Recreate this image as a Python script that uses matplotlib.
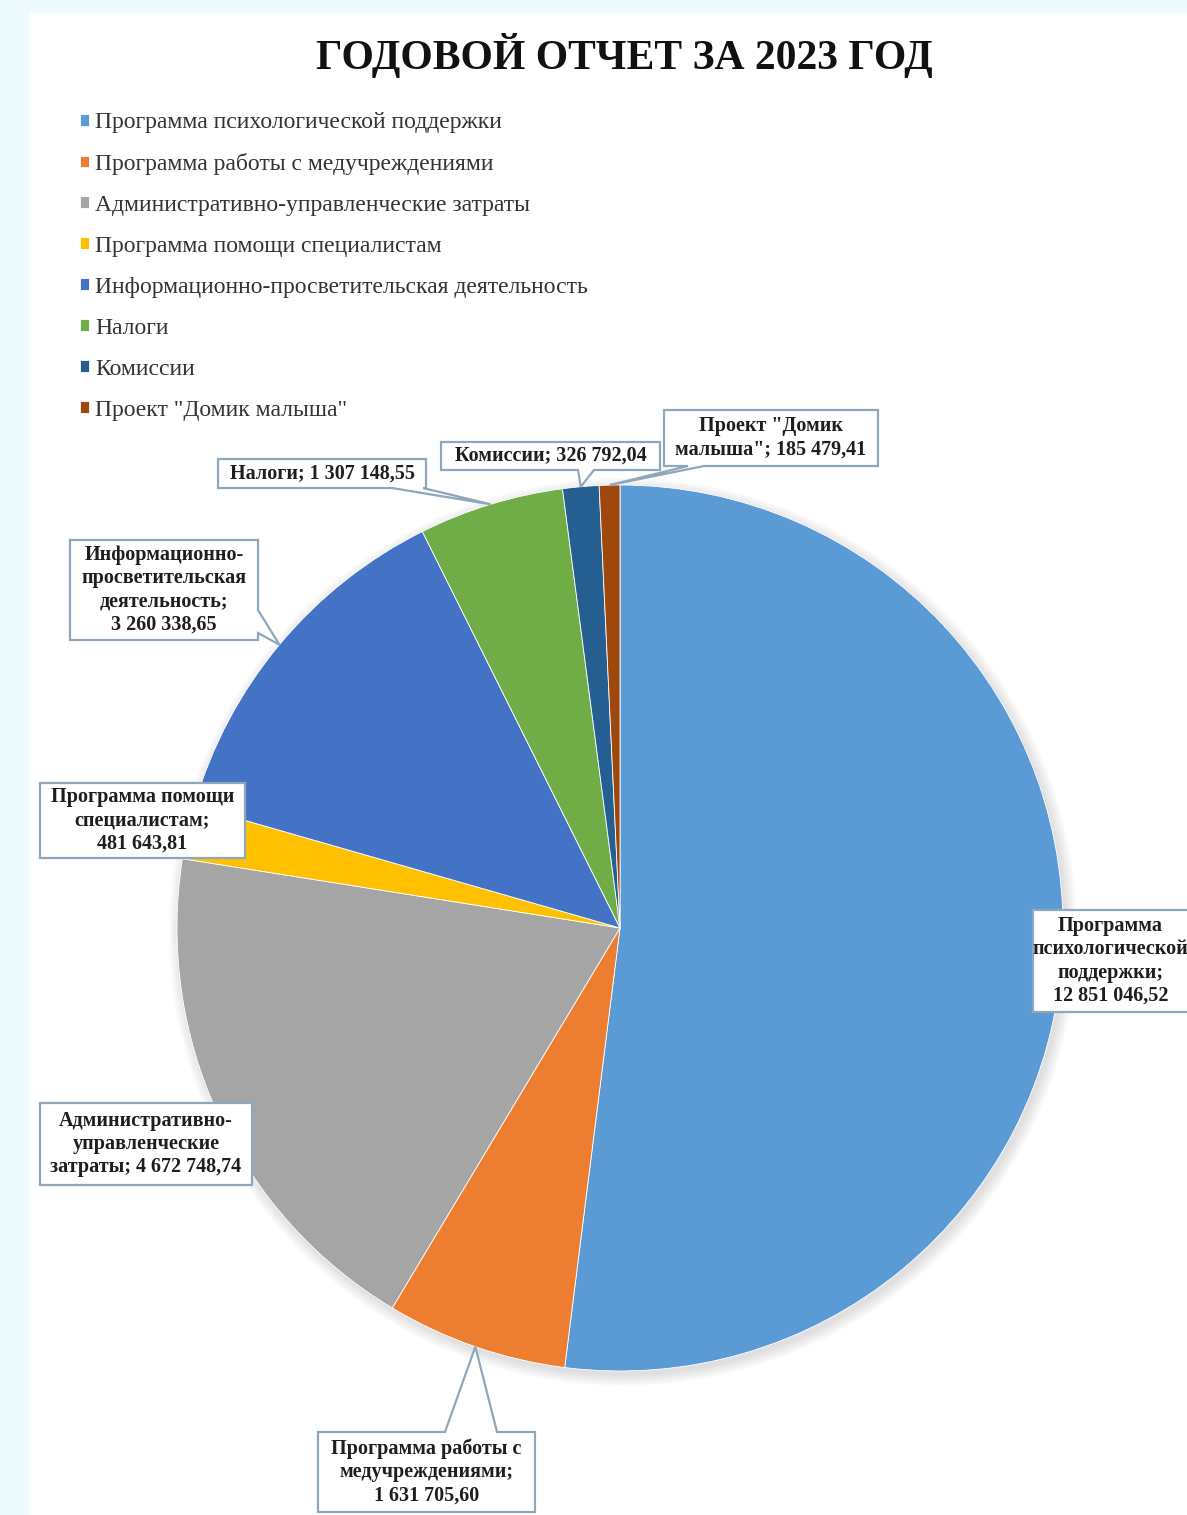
import matplotlib

matplotlib.use("Agg")
import matplotlib.pyplot as plt  # noqa: E402
from matplotlib.patches import Circle, Polygon, Rectangle  # noqa: E402
import numpy as np  # noqa: E402

W, H = 1187, 1515

TITLE = "ГОДОВОЙ ОТЧЕТ ЗА 2023 ГОД"
CATEGORIES = [
    "Программа психологической поддержки",
    "Программа работы с медучреждениями",
    "Административно-управленческие затраты",
    "Программа помощи специалистам",
    "Информационно-просветительская деятельность",
    "Налоги",
    "Комиссии",
    "Проект \"Домик малыша\"",
]
VALUES = [12851046.52, 1631705.60, 4672748.74, 481643.81,
          3260338.65, 1307148.55, 326792.04, 185479.41]
# category names as wrapped inside the data-label callouts, and what follows the ";"
LABEL_NAMES = [
    "Программа\nпсихологической\nподдержки",
    "Программа работы с\nмедучреждениями",
    "Административно-\nуправленческие\nзатраты",
    "Программа помощи\nспециалистам",
    "Информационно-\nпросветительская\nдеятельность",
    "Налоги",
    "Комиссии",
    "Проект \"Домик\nмалыша\"",
]
LABEL_JOIN = ["\n", "\n", " ", "\n", "\n", " ", " ", " "]

COLORS = ["#5B9BD5", "#ED7D31", "#A5A5A5", "#FFC000",
          "#4472C4", "#70AD47", "#255E91", "#9E480E"]

# callout layout in page pixels: box (x0, y0, x1, y1), pointer side and base span
CALLOUTS = [
    ((1033, 910, 1200, 1012), None, None),
    ((318, 1432, 535, 1512), "top", (445, 497)),
    ((40, 1103, 252, 1185), None, None),
    ((40, 783, 245, 858), None, None),
    ((70, 540, 258, 640), "right", (610, 633)),
    ((218, 459, 426, 488), "bottom", (392, 423)),
    ((441, 442, 660, 470), "bottom", (578, 594)),
    ((664, 410, 878, 466), "bottom", (688, 704)),
]
TEXT_SHIFT = [(-6, 0), (0, 0), (0, 0), (0, 0), (0, 0), (0, 0), (0, 0), (0, 0)]

CENTER = (620, 928)
RADIUS = 443


def fmt_value(v):
    return f"{v:,.2f}".replace(",", " ").replace(".", ",")


def callout_poly(box, side, base, tip):
    x0, y0, x1, y1 = box
    tl, tr, br, bl = (x0, y0), (x1, y0), (x1, y1), (x0, y1)
    if side == "top":
        pts = [tl, (base[0], y0), tip, (base[1], y0), tr, br, bl]
    elif side == "right":
        pts = [tl, tr, (x1, base[0]), tip, (x1, base[1]), br, bl]
    elif side == "bottom":
        pts = [tl, tr, br, (base[1], y1), tip, (base[0], y1), bl]
    elif side == "left":
        pts = [tl, tr, br, bl, (x0, base[1]), tip, (x0, base[0])]
    else:
        pts = [tl, tr, br, bl]
    return pts


fig = plt.figure(figsize=(W / 100, H / 100), dpi=100, facecolor="#eefbfe")
ax = fig.add_axes([0, 0, 1, 1])

# white page
ax.add_patch(Rectangle((30, 13), W, H, facecolor="white", edgecolor="none", zorder=0))

# soft shadow under the pie
for i in range(10):
    ax.add_patch(Circle((CENTER[0] + 3, CENTER[1] + 4), RADIUS + 1.2 * i,
                        facecolor="#7a7a7a", edgecolor="none", alpha=0.025, zorder=1))

wedges, _ = ax.pie(VALUES, colors=COLORS, startangle=-90, counterclock=True,
                   center=CENTER, radius=RADIUS,
                   wedgeprops=dict(edgecolor="white", linewidth=0.6, zorder=2))

ax.set_xlim(0, W)
ax.set_ylim(H, 0)
ax.set_aspect("auto")
ax.axis("off")

for w, name, join, val, (box, side, base), (dx, dy) in zip(
        wedges, LABEL_NAMES, LABEL_JOIN, VALUES, CALLOUTS, TEXT_SHIFT):
    mid = np.deg2rad((w.theta1 + w.theta2) / 2)
    tip = (CENTER[0] + RADIUS * np.cos(mid), CENTER[1] + RADIUS * np.sin(mid))
    pts = callout_poly(box, side, base, tip)
    ax.add_patch(Polygon(pts, closed=True, facecolor="white", edgecolor="#8fa6bb",
                         linewidth=1.6, zorder=5))
    cx = (box[0] + box[2]) / 2 + dx
    cy = (box[1] + box[3]) / 2 + dy
    ax.text(cx, cy, f"{name};{join}{fmt_value(val)}", ha="center", va="center",
            multialignment="center", fontsize=14.5, fontweight="bold",
            family="Liberation Serif", color="#1e1e1e", linespacing=1.22, zorder=6)

fig.text(624 / W, 1 - 55 / H, TITLE, ha="center", va="center", fontsize=30,
         fontweight="bold", family="Liberation Serif", color="#111111")

leg = ax.legend(wedges, CATEGORIES, loc="upper left",
                bbox_to_anchor=(80 / W, 1 - 112 / H), bbox_transform=fig.transFigure,
                frameon=False, handlelength=0.4, handleheight=0.4,
                handletextpad=0.25, labelspacing=0.845, borderpad=0, borderaxespad=0,
                prop={"family": "Liberation Serif", "size": 17})
for t in leg.get_texts():
    t.set_color("#333333")

fig.savefig("out.png", dpi=100, facecolor=fig.get_facecolor())
